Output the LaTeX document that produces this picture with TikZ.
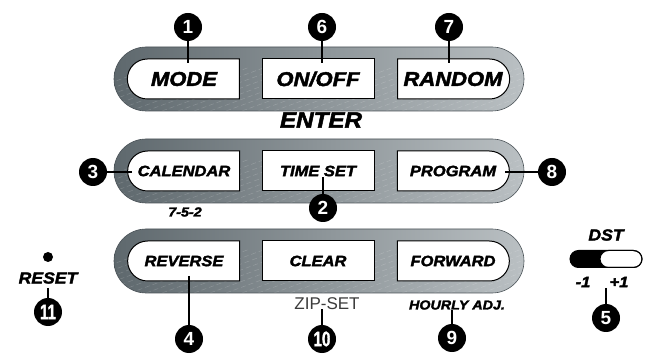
\documentclass[tikz,border=0pt]{standalone}
\usepackage{fontspec}
\setmainfont{Liberation Sans}
\newfontfamily\keyfont{Liberation Sans}[FakeStretch=1.1,FakeBold=2.2]
\newfontfamily\narrowfont{Liberation Sans}[FakeStretch=0.72,FakeBold=1.5]
\usetikzlibrary{shapes.misc}
\definecolor{BezelDark}{HTML}{5E686D}
\definecolor{BezelLight}{HTML}{BAC0C3}
\definecolor{BezelEdge}{HTML}{4A5257}
\definecolor{ZipGray}{HTML}{3C3C3C}

\begin{document}
\begin{tikzpicture}[x=1pt, y=-1pt,
        bezel/.style={rounded rectangle, draw=BezelEdge, line width=0.6pt, left color=BezelDark, right color=BezelLight,
                      minimum width=410pt, minimum height=64pt, inner sep=0pt,
                      path picture={\foreach \k in {0,16,...,480}
                          \draw[white, opacity=.18, line width=.5pt, dash pattern=on 5pt off 3pt]
                          ([xshift={(\k-80)*1pt}]path picture bounding box.south west) -- ++(120,-44);}},
        keybox/.style={draw=black, line width=1pt, fill=white, minimum width=112pt, minimum height=40pt, inner sep=0pt,
                       font=\keyfont\bfseries\itshape\fontsize{15}{15}\selectfont},
        keyleft/.style={keybox, rounded rectangle, rounded rectangle east arc=none},
        keymid/.style={keybox, rectangle},
        keyright/.style={keybox, rounded rectangle, rounded rectangle west arc=none},
        bigkey/.style={font=\keyfont\bfseries\itshape\fontsize{20}{20}\selectfont},
        tag/.style={font=\keyfont\bfseries\itshape\fontsize{13}{13}\selectfont},
        callout/.style={circle, fill=black, text=white, minimum size=28pt, inner sep=0pt,
                        font=\bfseries\fontsize{19}{19}\selectfont},
        callouttwo/.style={callout, font=\narrowfont\bfseries\fontsize{21}{21}\selectfont},
        leader/.style={draw=black, line width=1.6pt},
        switchpart/.style={rounded rectangle, minimum height=17pt, inner sep=0pt}
    ]
        \path[use as bounding box, fill=white] (0,0) rectangle (653,355);

        % top row
        \node[bezel] (row1) at (319,79) {};
        \node[keyleft, bigkey] (mode) at (184,79) {MODE};
        \node[keymid, bigkey] (onoff) at (318,79) {ON/OFF};
        \node[keyright, bigkey] (random) at (453,79) {RANDOM};
        \node[font=\keyfont\bfseries\itshape\fontsize{22}{22}\selectfont] (enter) at (321,120) {ENTER};

        % middle row
        \node[bezel] (row2) at (319,171) {};
        \node[keyleft] (calendar) at (184,171) {CALENDAR};
        \node[keymid] (timeset) at (318,171) {TIME SET};
        \node[keyright] (program) at (453,171) {PROGRAM};
        \node[font=\keyfont\bfseries\itshape\fontsize{13}{13}\selectfont] (cycle) at (185,212) {7-5-2};

        % bottom row
        \node[bezel] (row3) at (319,261) {};
        \node[keyleft] (reverse) at (184,261) {REVERSE};
        \node[keymid] (clear) at (318,261) {CLEAR};
        \node[keyright] (forward) at (453,261) {FORWARD};
        \node[font=\fontsize{17}{17}\selectfont, text=ZipGray] (zipset) at (327,304) {ZIP-SET};
        \node[tag] (hourly) at (457,305) {HOURLY ADJ.};

        % reset
        \node[circle, fill=black, minimum size=10pt, inner sep=0pt] (resetdot) at (48,257) {};
        \node[font=\keyfont\bfseries\itshape\fontsize{16}{16}\selectfont] (reset) at (48,278) {RESET};

        % dst switch
        \node[font=\keyfont\bfseries\itshape\fontsize{16}{16}\selectfont] (dst) at (606,235) {DST};
        \node[switchpart, fill=black, minimum width=44pt] (dstoff) at (592,259) {};
        \node[switchpart, fill=white, draw=black, line width=1pt, minimum width=42pt] (dston) at (621,259) {};
        \node[switchpart, draw=black, line width=1pt, minimum width=72pt] (dstframe) at (606,259) {};
        \node[tag, font=\keyfont\bfseries\itshape\fontsize{15}{15}\selectfont] (minus) at (583,282) {-1};
        \node[tag, font=\keyfont\bfseries\itshape\fontsize{15}{15}\selectfont] (plus) at (619,282) {+1};

        % callouts
        \node[callout] (n1) at (188,27) {1};
        \node[callout] (n6) at (322,27) {6};
        \node[callout] (n7) at (449,27) {7};
        \node[callout] (n3) at (93,172) {3};
        \node[callout] (n8) at (552,172) {8};
        \node[callout] (n2) at (323,208) {2};
        \node[callouttwo] (n11) at (48,312) {11};
        \node[callout] (n4) at (189,339) {4};
        \node[callouttwo] (n10) at (322,339) {10};
        \node[callout] (n9) at (452,338) {9};
        \node[callout] (n5) at (606,318) {5};

        \coordinate (c1) at (188,63);
        \coordinate (c6) at (322,63);
        \coordinate (c7) at (449,63);
        \coordinate (c3) at (132,172);
        \coordinate (c8) at (505,172);
        \coordinate (c2) at (323,177);
        \coordinate (c11) at (48,288);
        \coordinate (c4) at (189,276);
        \coordinate (c10) at (322,309);
        \coordinate (c9) at (452,310);
        \coordinate (c5) at (606,288);

        \draw[leader] (c1) -- (n1);
        \draw[leader] (c6) -- (n6);
        \draw[leader] (c7) -- (n7);
        \draw[leader] (c3) -- (n3);
        \draw[leader] (c8) -- (n8);
        \draw[leader] (c2) -- (n2);
        \draw[leader] (c11) -- (n11);
        \draw[leader] (c4) -- (n4);
        \draw[leader] (c10) -- (n10);
        \draw[leader] (c9) -- (n9);
        \draw[leader] (c5) -- (n5);
    \end{tikzpicture}
\end{document}
